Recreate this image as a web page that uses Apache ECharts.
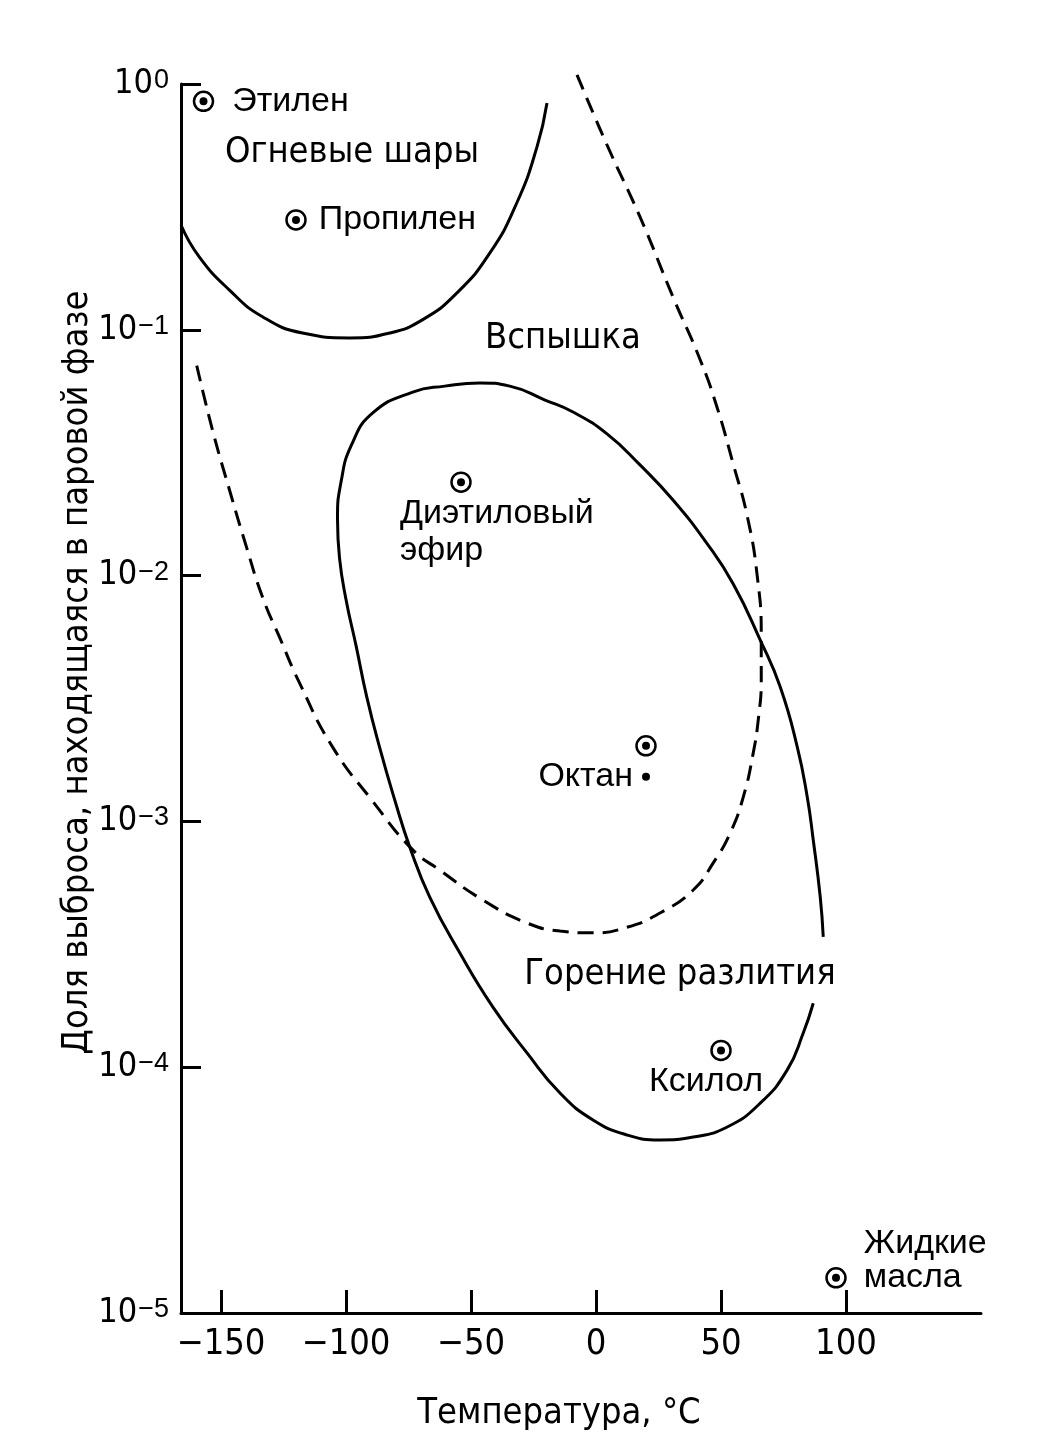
<!DOCTYPE html>
<html>
<head>
<meta charset="utf-8">
<script src="https://cdn.jsdelivr.net/npm/echarts@6/dist/echarts.min.js"></script>
<style>
  html, body { margin: 0; background: #fff; }
  #chart { width: 1040px; height: 1456px; }
</style>
</head>
<body>
<div id="chart"></div>
<script>
// температура, °C и доля выброса в паровой фазе
var xTicks = [-150, -100, -50, 0, 50, 100];

// граница "Огневые шары"
var fireballLine = [
  [-166, 0.267], [-158.7, 0.198], [-146.6, 0.145], [-133.4, 0.113], [-117.4, 0.097],
  [-98.6, 0.0927], [-82.5, 0.097], [-69.3, 0.110], [-55.7, 0.141], [-42.5, 0.205],
  [-31.7, 0.328], [-23.6, 0.555], [-19.6, 0.837]
];

// граница "Вспышка" (пунктир)
var flashLine = [
  [-7.6, 1.09], [4.4, 0.565], [17.6, 0.288], [30.8, 0.136], [41.7, 0.0754],
  [48.5, 0.0481], [54.9, 0.0284], [60.5, 0.01745], [64.5, 0.00995], [66.1, 0.00568],
  [66.1, 0.00376], [64.9, 0.00259], [62.9, 0.00190], [58.9, 0.001256], [53.7, 0.000898],
  [46.9, 0.000678], [38.9, 0.000526], [25.6, 0.000424], [12.4, 0.000371], [-1.2, 0.000352],
  [-14.4, 0.000358], [-27.6, 0.000386], [-45.3, 0.000479], [-62.5, 0.000634], [-73.3, 0.000766],
  [-89.7, 0.001222], [-105.4, 0.00201], [-118.6, 0.00366], [-126.6, 0.00562], [-133.4, 0.00818],
  [-139.8, 0.01306], [-146.6, 0.0223], [-153.4, 0.0391], [-160.3, 0.0760]
];

// граница "Горение разлития"
var poolFireLine = [
  [90.9, 0.000339], [89.7, 0.000492], [86.9, 0.000840], [84.5, 0.001257], [80.5, 0.00201],
  [73.7, 0.00352], [65.7, 0.00547], [54.9, 0.00924], [44.5, 0.01346], [30.8, 0.0203],
  [17.6, 0.0282], [4.4, 0.0377], [-9.2, 0.0463], [-20.4, 0.0518], [-34.5, 0.0590],
  [-46.5, 0.0608], [-60.5, 0.0590], [-73.3, 0.0558], [-89.3, 0.0459], [-97.8, 0.0340],
  [-102.0, 0.0240], [-103.4, 0.0170], [-102.6, 0.0118], [-100.0, 0.00800], [-96.0, 0.00520],
  [-91.7, 0.00321], [-86.5, 0.00199], [-80.5, 0.001222], [-74.5, 0.000787], [-66.5, 0.000492],
  [-54.5, 0.000292], [-41.3, 0.000176], [-27.6, 0.0001143], [-14.4, 7.85e-5], [-1.2, 6.10e-5],
  [12.4, 5.30e-5], [25.6, 5.06e-5], [38.9, 5.20e-5], [52.5, 5.71e-5], [65.7, 7.14e-5],
  [76.5, 9.75e-5], [82.9, 1.377e-4], [86.9, 1.82e-4]
];

// вещества
var substances = ['Этилен', 'Пропилен', 'Диэтиловый\nэфир', 'Октан', 'Ксилол', 'Жидкие\nмасла'];
var substanceT = [-157, -120, -54, 20, 50, 96];
var substanceFrac = [0.85, 0.28, 0.024, 0.00203, 1.17e-4, 1.39e-5];
var octaneDot = [20, 0.00152];

// области
var regionNames = ['Огневые шары', 'Вспышка', 'Горение разлития'];
var regionT = [-97.6, -13.2, 33.6];
var regionFrac = [0.524, 0.092, 2.37e-4];

var FONT = "'Liberation Sans', Arial, sans-serif";
var NARROW = "'DejaVu Sans Condensed', 'Liberation Sans', sans-serif";

// где стоят подписи веществ относительно значка
var labelPlace = {
  'Этилен': { position: 'right', distance: 18 },
  'Пропилен': { position: 'right', distance: 12 },
  'Диэтиловый\nэфир': { position: 'bottom', distance: 2, align: 'left', offset: [-61, 0], lineHeight: 37 },
  'Октан': { show: false },
  'Ксилол': { position: 'bottom', distance: 3, offset: [-15, 0] },
  'Жидкие\nмасла': { position: 'right', distance: 17, align: 'left', lineHeight: 34, offset: [0, -17] }
};

var textBase = { color: '#000', opacity: 1, textBorderWidth: 0, textShadowBlur: 0 };

var ringData = substances.map(function (name, i) {
  var lab = Object.assign({ show: true, fontFamily: FONT, fontSize: 34 }, textBase, labelPlace[name]);
  return { name: name, value: [substanceT[i], substanceFrac[i]], label: lab };
});

var regionData = regionNames.map(function (name, i) {
  return { name: name, value: [regionT[i], regionFrac[i]] };
});

function expLabel(v) {
  var e = Math.round(Math.log10(v));
  return '{b|10}{e|' + (e < 0 ? '\u2212' + (-e) : e) + '}';
}

var lineBase = { type: 'line', showSymbol: false, symbol: 'none', smooth: 0.5, clip: false, silent: true };

var myChart = echarts.init(document.getElementById('chart'));
var option = {
  backgroundColor: '#fff',
  animation: false,
  grid: { left: 181, right: 59, top: 84, bottom: 143 },
  xAxis: {
    type: 'value',
    min: -166,
    max: 154,
    name: 'Температура, °C',
    nameLocation: 'middle',
    nameGap: 83,
    nameMoveOverlap: false,
    nameTextStyle: { color: '#000', fontFamily: NARROW, fontSize: 36, padding: [0, 44, 0, 0] },
    axisLine: { show: true, onZero: false, lineStyle: { color: '#000', width: 3 } },
    axisTick: { show: true, inside: true, length: 23, lineStyle: { color: '#000', width: 3 }, customValues: xTicks },
    axisLabel: {
      color: '#000', fontFamily: NARROW, fontSize: 36, margin: 14, customValues: xTicks,
      formatter: function (v) { return v < 0 ? '\u2212' + (-v) : String(v); }
    },
    splitLine: { show: false }
  },
  yAxis: {
    type: 'log',
    logBase: 10,
    min: 1e-5,
    max: 1,
    name: 'Доля выброса, находящаяся в паровой фазе',
    nameLocation: 'middle',
    nameGap: 85,
    nameMoveOverlap: false,
    nameTextStyle: { color: '#000', fontFamily: NARROW, fontSize: 36, padding: [0, 0, 0, 52] },
    axisLine: { show: true, onZero: false, lineStyle: { color: '#000', width: 3 } },
    axisTick: { show: true, inside: true, length: 20, lineStyle: { color: '#000', width: 3 } },
    minorTick: { show: false },
    axisLabel: {
      margin: 12,
      formatter: expLabel,
      rich: {
        b: { color: '#000', fontFamily: NARROW, fontSize: 34, lineHeight: 34, padding: [13, 0, 13, 0], verticalAlign: 'middle' },
        e: { color: '#000', fontFamily: FONT, fontSize: 27, lineHeight: 27, padding: [0, 0, 0, 1], verticalAlign: 'top' }
      }
    },
    splitLine: { show: false }
  },
  series: [
    Object.assign({}, lineBase, { name: 'Огневые шары', data: fireballLine, lineStyle: { color: '#000', width: 3 } }),
    Object.assign({}, lineBase, { name: 'Вспышка', data: flashLine, lineStyle: { color: '#000', width: 3, type: [16, 9] } }),
    Object.assign({}, lineBase, { name: 'Горение разлития', data: poolFireLine, lineStyle: { color: '#000', width: 3 } }),
    {
      type: 'scatter', name: 'области', data: regionData, symbolSize: 1, silent: true,
      itemStyle: { color: 'rgba(0,0,0,0)', opacity: 1 },
      label: Object.assign({ show: true, position: 'inside', formatter: '{b}', fontFamily: NARROW, fontSize: 36 }, textBase)
    },
    {
      type: 'scatter', name: 'вещества', data: ringData, symbol: 'circle', symbolSize: 19, silent: true,
      itemStyle: { color: '#fff', borderColor: '#000', borderWidth: 2.5, opacity: 1 },
      label: { formatter: '{b}' }
    },
    {
      type: 'scatter', name: 'центры', data: ringData.map(function (d) { return d.value; }),
      symbol: 'circle', symbolSize: 8, silent: true, itemStyle: { color: '#000', opacity: 1 }
    },
    {
      type: 'scatter', name: 'Октан', data: [{ name: 'Октан', value: octaneDot }],
      symbol: 'circle', symbolSize: 8, silent: true, itemStyle: { color: '#000', opacity: 1 },
      label: Object.assign({ show: true, position: 'left', distance: 9, formatter: '{b}', fontFamily: FONT, fontSize: 34 }, textBase)
    }
  ]
};
myChart.setOption(option);
window.addEventListener('resize', function () {
  myChart.resize();
});
</script>
</body>
</html>
